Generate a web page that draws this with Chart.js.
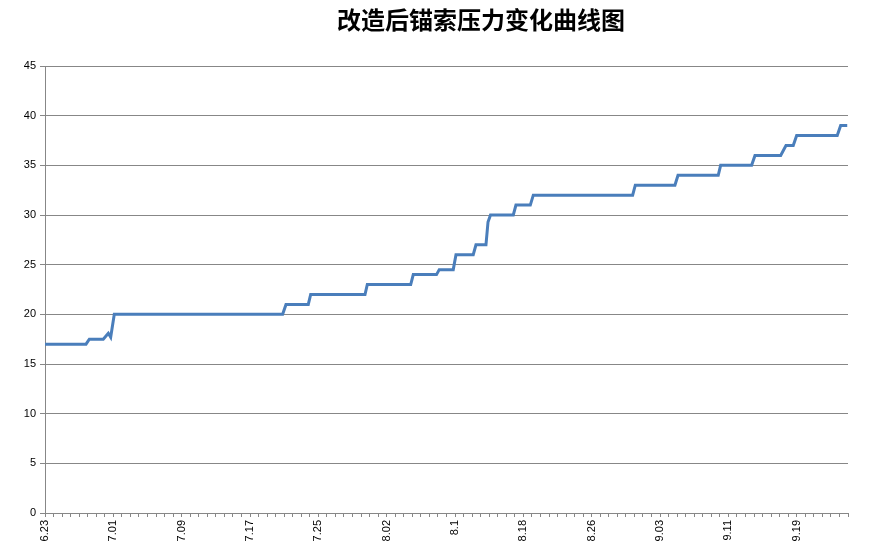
<!DOCTYPE html>
<html>
<head>
<meta charset="utf-8">
<script src="https://cdn.jsdelivr.net/npm/chart.js@4"></script>
<style>
  html, body { margin: 0; padding: 0; background: #fff; }
  #wrap { width: 892px; height: 550px; position: relative; }
</style>
</head>
<body>
<div id="wrap"><canvas id="chart"></canvas></div>
<script>
const titleText = '改造后锚索压力变化曲线图';

// tick labels, one every 8 days starting from 6.23
const dateLabels = ['6.23', '7.01', '7.09', '7.17', '7.25', '8.02', '8.1', '8.18', '8.26', '9.03', '9.11', '9.19'];

// days since 6.23 (fractional, several readings per day) and pressure readings
const dayPos = [0, 4.8, 5.19, 6.82, 7.41, 7.69, 8.11, 27.82, 28.21, 30.82, 31.1, 37.46, 37.73,
  42.81, 43.11, 45.83, 46.15, 47.79, 48.11, 50.13, 50.45, 51.62, 51.86, 52.15, 54.82, 55.13,
  56.81, 57.16, 68.79, 69.1, 73.74, 74.1, 78.81, 79.09, 82.72, 83.11, 86.12, 86.74, 87.59,
  87.99, 92.74, 93.14, 93.91];
const pressure = [17, 17, 17.5, 17.5, 18.1, 17.7, 20, 20, 21, 21, 22, 22, 23,
  23, 24, 24, 24.5, 24.5, 26, 26, 27, 27, 29.3, 30, 30, 31,
  31, 32, 32, 33, 33, 34, 34, 35, 35, 36, 36, 37, 37,
  38, 38, 39, 39];

const points = dayPos.map((d, i) => ({ x: d, y: pressure[i] }));
const gridColor = '#878787';

const titlePlugin = {
  id: 'titleText',
  afterDraw(chart) {
    const c = chart.ctx;
    c.save();
    c.fillStyle = '#000';
    c.font = 'bold 24px "Noto Sans CJK SC"';
    c.textAlign = 'center';
    c.textBaseline = 'middle';
    c.fillText(titleText, 481, 20);
    c.restore();
  }
};

Chart.defaults.font.family = '"Liberation Sans", sans-serif';
Chart.defaults.font.size = 11;
Chart.defaults.color = '#000';

new Chart(document.getElementById('chart'), {
  type: 'line',
  data: {
    datasets: [{
      label: '锚索压力',
      data: points,
      borderColor: '#4a7ebb',
      borderWidth: 3,
      pointRadius: 0,
      tension: 0,
      fill: false
    }]
  },
  options: {
    responsive: true,
    maintainAspectRatio: false,
    animation: false,
    layout: { padding: { top: 66, right: 44, left: 0, bottom: 0 } },
    plugins: {
      legend: { display: false },
      title: { display: false },
      tooltip: { enabled: false }
    },
    scales: {
      x: {
        type: 'linear',
        min: 0,
        max: 94,
        afterFit(scale) { scale.height = 37; },
        grid: { drawOnChartArea: false, drawTicks: true, tickLength: 4, color: gridColor },
        border: { color: gridColor },
        ticks: {
          stepSize: 1,
          autoSkip: false,
          minRotation: 90,
          maxRotation: 90,
          padding: 3,
          callback: (v) => (v % 8 === 0 ? dateLabels[v / 8] : '')
        }
      },
      y: {
        min: 0,
        max: 45,
        afterFit(scale) { scale.width = 45; },
        grid: { color: gridColor, tickLength: 5 },
        border: { color: gridColor },
        ticks: { stepSize: 5, padding: 4 }
      }
    }
  },
  plugins: [titlePlugin]
});
</script>
</body>
</html>
